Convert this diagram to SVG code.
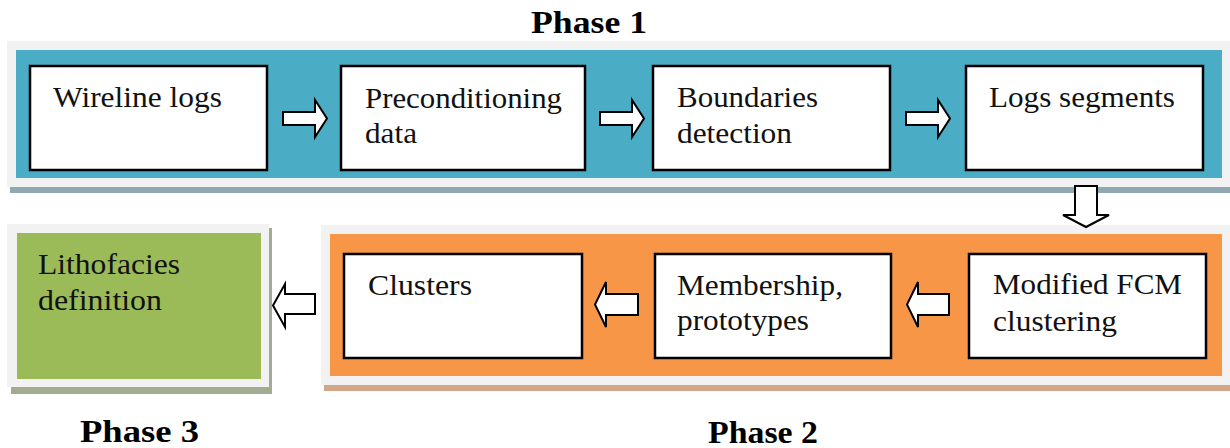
<svg xmlns="http://www.w3.org/2000/svg" width="1230" height="448" viewBox="0 0 1230 448">
<style>
.frame{fill:#f2f2f2}
.box{fill:#ffffff;stroke:#000000;stroke-width:2.5}
.t{font-family:"Liberation Serif","Times New Roman",serif;font-size:30px;fill:#111111}
.title{font-family:"Liberation Serif","Times New Roman",serif;font-size:32px;font-weight:bold;fill:#000000}
.arr{fill:#ffffff;stroke:#000000;stroke-width:2;stroke-linejoin:miter}
</style>
<rect width="1230" height="448" fill="#ffffff"/>
<g id="phase1-panel">
<rect x="10" y="187" width="1220" height="6" fill="#8fa9b3"/>
<rect class="frame" x="7" y="41" width="1223" height="146"/>
<rect x="16" y="50" width="1206" height="128" fill="#4bacc6"/>
</g>
<g id="phase2-panel">
<rect x="324" y="385" width="906" height="6" fill="#d3a688"/>
<rect class="frame" x="321" y="225" width="909" height="160"/>
<rect x="330" y="234" width="892" height="142" fill="#f79646"/>
</g>
<g id="phase3-panel">
<rect x="11" y="228" width="261" height="166" fill="#a3ac93"/>
<rect class="frame" x="7" y="224" width="262" height="163"/>
<rect x="17" y="233" width="244" height="146" fill="#9bbb59"/>
<text class="t" x="38" y="274" textLength="142" lengthAdjust="spacingAndGlyphs">Lithofacies</text>
<text class="t" x="38" y="310" textLength="124" lengthAdjust="spacingAndGlyphs">definition</text>
</g>
<g id="wireline">
<rect class="box" x="30" y="66" width="237" height="104"/>
<text class="t" x="53" y="107" textLength="169" lengthAdjust="spacingAndGlyphs">Wireline logs</text>
</g>
<g id="preconditioning">
<rect class="box" x="341" y="66" width="244" height="104"/>
<text class="t" x="365" y="108" textLength="197" lengthAdjust="spacingAndGlyphs">Preconditioning</text>
<text class="t" x="365" y="143" textLength="52" lengthAdjust="spacingAndGlyphs">data</text>
</g>
<g id="boundaries">
<rect class="box" x="653" y="66" width="237" height="104"/>
<text class="t" x="677" y="107" textLength="141" lengthAdjust="spacingAndGlyphs">Boundaries</text>
<text class="t" x="677" y="143" textLength="115" lengthAdjust="spacingAndGlyphs">detection</text>
</g>
<g id="segments">
<rect class="box" x="966" y="66" width="237" height="104"/>
<text class="t" x="989" y="107" textLength="186" lengthAdjust="spacingAndGlyphs">Logs segments</text>
</g>
<g id="fcm">
<rect class="box" x="969" y="254" width="237" height="104"/>
<text class="t" x="993" y="294" textLength="189" lengthAdjust="spacingAndGlyphs">Modified FCM</text>
<text class="t" x="993" y="331" textLength="124" lengthAdjust="spacingAndGlyphs">clustering</text>
</g>
<g id="membership">
<rect class="box" x="655" y="254" width="236" height="104"/>
<text class="t" x="677" y="295" textLength="166" lengthAdjust="spacingAndGlyphs">Membership,</text>
<text class="t" x="677" y="330" textLength="132" lengthAdjust="spacingAndGlyphs">prototypes</text>
</g>
<g id="clusters">
<rect class="box" x="344" y="254" width="238" height="104"/>
<text class="t" x="368" y="295" textLength="104" lengthAdjust="spacingAndGlyphs">Clusters</text>
</g>
<g id="connectors">
<polygon class="arr" points="283,112 315,112 315,100 327,118.5 315,137 315,125 283,125"/>
<polygon class="arr" points="600,112 632,112 632,100 644,118.5 632,137 632,125 600,125"/>
<polygon class="arr" points="906,112 938,112 938,100 950,118.5 938,137 938,125 906,125"/>
<polygon class="arr" points="1075,186 1097,186 1097,215 1109,215 1086,227 1063,215 1075,215"/>
<polygon class="arr" points="949,294 918,294 918,282 907,304.5 918,327 918,315 949,315"/>
<polygon class="arr" points="638,294 606,294 606,282 595,304.5 606,327 606,315 638,315"/>
<polygon class="arr" points="315,294 285,294 285,284 273,305.5 285,327 285,314 315,314"/>
</g>
<text class="title" x="531" y="33" textLength="116" lengthAdjust="spacingAndGlyphs">Phase 1</text>
<text class="title" x="708" y="443" textLength="110" lengthAdjust="spacingAndGlyphs">Phase 2</text>
<text class="title" x="80" y="442" textLength="119" lengthAdjust="spacingAndGlyphs">Phase 3</text>
</svg>
